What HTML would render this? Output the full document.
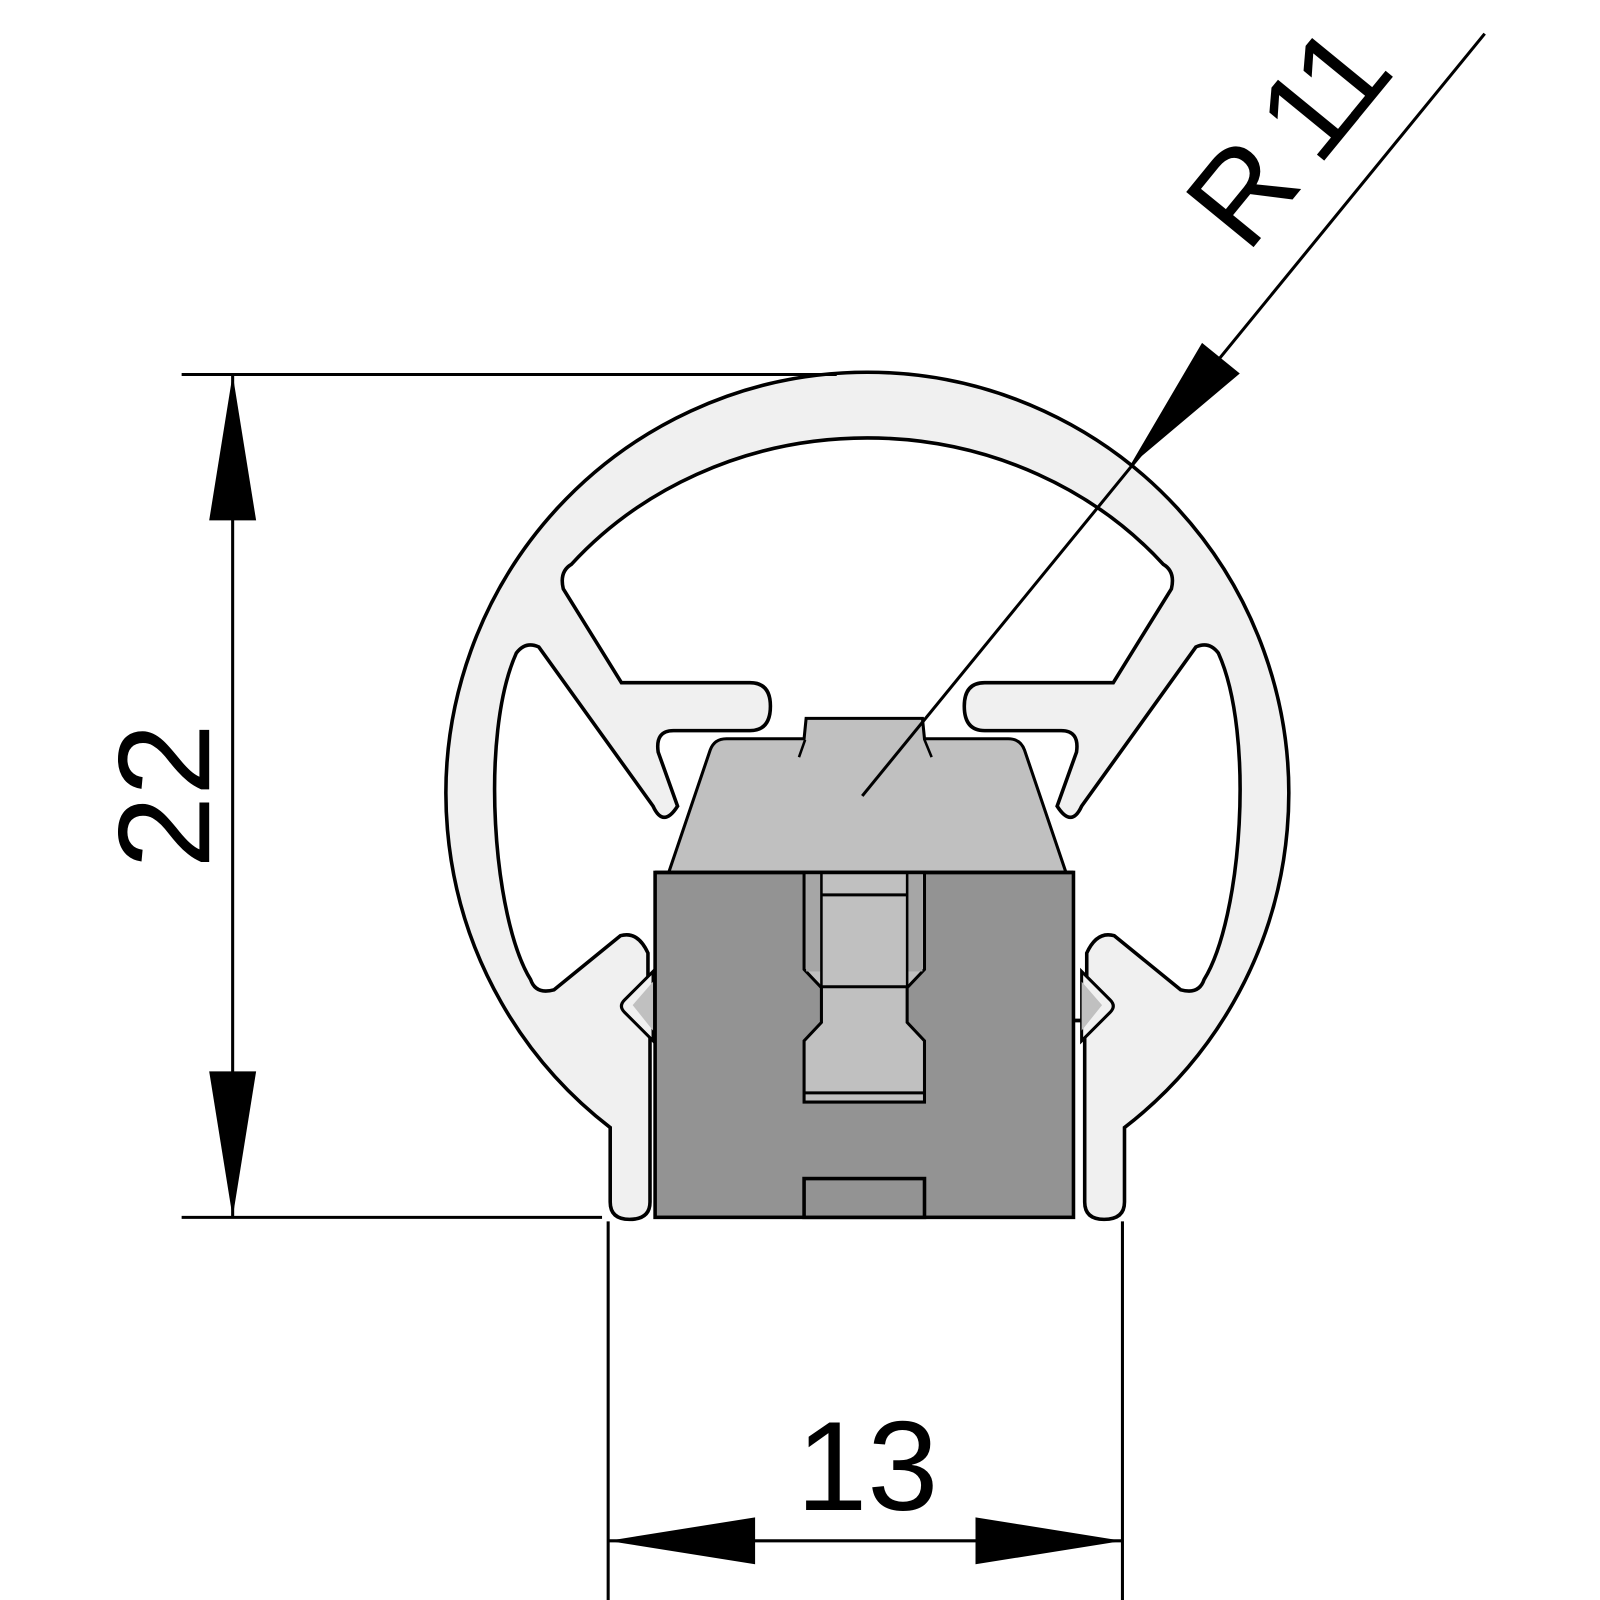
<!DOCTYPE html>
<html><head><meta charset="utf-8"><style>html,body{margin:0;padding:0;background:#fff}svg{display:block}</style></head>
<body>
<svg width="1600" height="1600" viewBox="0 0 1568 1568" xmlns="http://www.w3.org/2000/svg" font-family="Liberation Sans, Arial, sans-serif">
<rect width="1568" height="1568" fill="#fff"/>
<path d="M598,1105 L598,1178 Q598,1195 617,1195 Q637,1195 637,1178 L637,1000 L1063,1000 L1063,1178 Q1063,1195 1082,1195 Q1102,1195 1102,1178 L1102,1105 A413,413 0 1 0 598,1105 Z" fill="#f0f0f0" stroke="#000" stroke-width="3.5"/>
<path d="M635,1000 L635,934 Q625,912 608,917 L543,970 Q525,975 520,960 C483,900 470,720 506,640 Q515,628 528,634 L640,790 Q650,812 664,790 L645,737 Q642,716 660,716 L735,716 Q755,716 755,692 Q755,669 735,669 L609,669 L552,577 Q548,560 560,553 A380,350 0 0 1 1140,553 Q1152,560 1148,577 L1091,669 L965,669 Q945,669 945,692 Q945,716 965,716 L1040,716 Q1058,716 1055,737 L1036,790 Q1050,812 1060,790 L1172,634 Q1185,628 1194,640 C1230,720 1217,900 1180,960 Q1175,975 1157,970 L1092,917 Q1075,912 1065,934 L1065,1000 Z" fill="#fff" stroke="#000" stroke-width="3.5"/>
<path d="M640,952 L612,980 Q606,986 612,992 L640,1020 Z" fill="#f0f0f0" stroke="#000" stroke-width="3"/>
<path d="M640,962 L620,985 L640,1010 Z" fill="#c0c0c0"/>
<path d="M1060,952 L1088,980 Q1094,986 1088,992 L1060,1020 Z" fill="#f0f0f0" stroke="#000" stroke-width="3"/>
<path d="M1060,962 L1080,985 L1060,1010 Z" fill="#c0c0c0"/>
<path d="M655,856 L696,735 Q700,724 712,724 L788,724 L790,704 L904,704 L906,724 L988,724 Q1000,724 1004,735 L1045,856 Z" fill="#c0c0c0" stroke="#000" stroke-width="3"/>
<line x1="783" y1="742" x2="789" y2="725" stroke="#000" stroke-width="2.5"/>
<line x1="913" y1="742" x2="906" y2="725" stroke="#000" stroke-width="2.5"/>
<rect x="642" y="855" width="410" height="338" fill="#939393" stroke="#000" stroke-width="3.5"/>
<path d="M788,855 L788,950 L805,968 L805,1002 L788,1020 L788,1080 L906,1080 L906,1020 L889,1002 L889,968 L906,950 L906,855 Z" fill="#c0c0c0" stroke="#000" stroke-width="3"/>
<rect x="790" y="857" width="15" height="95" fill="#a6a6a6"/>
<rect x="889" y="857" width="15" height="95" fill="#a6a6a6"/>
<line x1="805" y1="855" x2="805" y2="968" stroke="#000" stroke-width="2.5"/>
<line x1="889" y1="855" x2="889" y2="968" stroke="#000" stroke-width="2.5"/>
<line x1="805" y1="877" x2="889" y2="877" stroke="#000" stroke-width="3"/>
<line x1="805" y1="967" x2="889" y2="967" stroke="#000" stroke-width="3"/>
<line x1="788" y1="1071" x2="906" y2="1071" stroke="#000" stroke-width="3"/>
<rect x="788" y="1155" width="118" height="38" fill="#939393" stroke="#000" stroke-width="3.5"/>
<line x1="642" y1="855" x2="1052" y2="855" stroke="#000" stroke-width="3.5"/>
<line x1="178" y1="367" x2="820" y2="367" stroke="#000" stroke-width="3"/>
<line x1="178" y1="1193" x2="590" y2="1193" stroke="#000" stroke-width="3"/>
<line x1="228" y1="367" x2="228" y2="1193" stroke="#000" stroke-width="3"/>
<polygon points="228,367 205,510 251,510" fill="#000"/>
<polygon points="228,1193 205,1050 251,1050" fill="#000"/>
<text transform="translate(205,780) rotate(-90)" font-size="128" text-anchor="middle">22</text>
<line x1="596" y1="1197" x2="596" y2="1568" stroke="#000" stroke-width="3"/>
<line x1="1100" y1="1197" x2="1100" y2="1568" stroke="#000" stroke-width="3"/>
<line x1="596" y1="1510" x2="1100" y2="1510" stroke="#000" stroke-width="3"/>
<polygon points="596,1510 740,1487 740,1533" fill="#000"/>
<polygon points="1100,1510 956,1487 956,1533" fill="#000"/>
<text x="850" y="1480" font-size="125" text-anchor="middle">13</text>
<line x1="845" y1="780" x2="1455" y2="33" stroke="#000" stroke-width="3"/>
<polygon points="1107,457 1178,336 1215,366" fill="#000"/>
<text transform="translate(1222,250) rotate(-50.7)" font-size="124" textLength="232" lengthAdjust="spacing">R 11</text>
</svg>
</body></html>
